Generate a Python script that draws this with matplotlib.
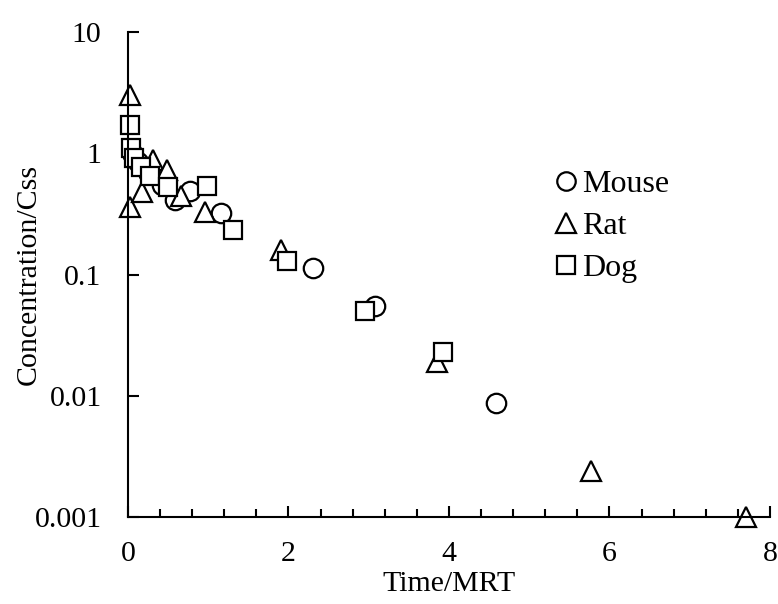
import numpy as np
import matplotlib.pyplot as plt
from matplotlib.ticker import MultipleLocator, FixedLocator, FixedFormatter

plt.rcParams['font.family'] = ['Liberation Serif', 'DejaVu Serif']

# Data (Time/MRT, Concentration/Css)
mouse_t = [0.05, 0.12, 0.25, 0.42, 0.58, 0.77, 1.16, 2.30, 3.08, 4.58]
mouse_c = [1.00, 0.85, 0.70, 0.55, 0.41, 0.485, 0.32, 0.114, 0.055, 0.0087]

rat_t = [0.02, 0.03, 0.17, 0.31, 0.48, 0.66, 0.96, 1.91, 3.85, 5.77, 7.70]
rat_c = [3.0, 0.36, 0.48, 0.88, 0.73, 0.44, 0.33, 0.16, 0.0189, 0.0024, 0.001]

dog_t = [0.02, 0.04, 0.07, 0.16, 0.27, 0.50, 0.98, 1.31, 1.98, 2.95, 3.93]
dog_c = [1.72, 1.10, 0.92, 0.77, 0.65, 0.53, 0.54, 0.234, 0.13, 0.05, 0.023]

y_ticks = [0.001, 0.01, 0.1, 1, 10]
y_labels = ['0.001', '0.01', '0.1', '1', '10']

fig = plt.figure(figsize=(7.78, 6.04), dpi=100)
ax = fig.add_axes([0.1645, 0.144, 0.8252, 0.803])

style = dict(linestyle='none', markerfacecolor='white', markeredgecolor='black',
             markeredgewidth=1.6, clip_on=False)
ax.plot(mouse_t, mouse_c, marker='o', markersize=14, label='Mouse', **style)
ax.plot(rat_t, rat_c, marker='^', markersize=15, label='Rat', **style)
ax.plot(dog_t, dog_c, marker='s', markersize=13, label='Dog', **style)

ax.set_yscale('log')
ax.set_ylim(0.001, 10)
ax.set_xlim(0, 8)
ax.yaxis.set_major_locator(FixedLocator(y_ticks))
ax.yaxis.set_major_formatter(FixedFormatter(y_labels))
ax.yaxis.set_minor_locator(FixedLocator([]))
ax.xaxis.set_major_locator(MultipleLocator(2))
ax.xaxis.set_minor_locator(MultipleLocator(0.4))

for s in ['top', 'right']:
    ax.spines[s].set_visible(False)
for s in ['left', 'bottom']:
    ax.spines[s].set_linewidth(1.5)

ax.tick_params(which='major', direction='in', length=8, width=1.5, labelsize=21.5)
ax.tick_params(which='minor', direction='in', length=6, width=1.5)
ax.tick_params(axis='x', which='major', pad=17)
ax.tick_params(axis='y', which='major', pad=19)

ax.set_xlabel('Time/MRT', fontsize=21.5, labelpad=3)
ax.set_ylabel('Concentration/Css', fontsize=21.5, labelpad=-5)

fig.legend(loc='upper left', bbox_to_anchor=(0.693, 0.746), frameon=False,
           fontsize=23, handlelength=0.7, handletextpad=0.15, labelspacing=0.4,
           borderpad=0, markerscale=0.95)

fig.savefig('out.png', dpi=100)
